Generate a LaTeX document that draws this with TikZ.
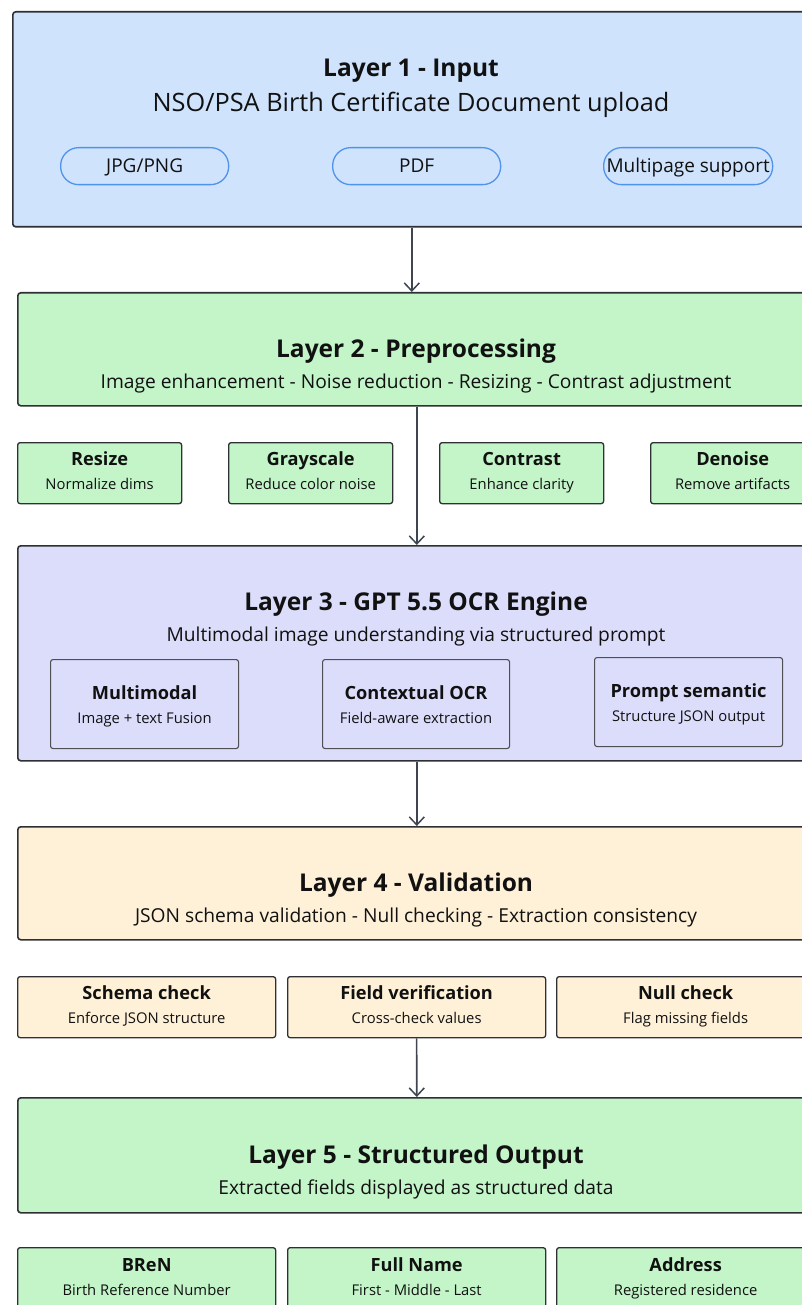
\documentclass[tikz,border=0pt]{standalone}
\usepackage{fontspec}
\setmainfont{Open Sans}
\usetikzlibrary{arrows.meta}
\definecolor{blueL}{HTML}{CFE3FD}
\definecolor{greenL}{HTML}{C3F5C9}
\definecolor{violetL}{HTML}{DCDDFB}
\definecolor{creamL}{HTML}{FEF1D8}
\definecolor{pillB}{HTML}{4F93EA}
\definecolor{edgeC}{HTML}{2E3033}
\definecolor{lineC}{HTML}{3E4550}
\definecolor{txt}{HTML}{111111}
\tikzset{
  layerbox/.style={draw=edgeC, line width=1.6pt, rounded corners=3pt, inner sep=0pt, anchor=north west},
  smallbox/.style={draw=edgeC, line width=1.3pt, rounded corners=2.5pt, inner sep=0pt, anchor=north west},
  innerbox/.style={draw=edgeC!85, line width=1.1pt, rounded corners=2.5pt, inner sep=0pt, anchor=north west},
  pill/.style={draw=pillB, line width=1.3pt, rounded corners=18pt, inner sep=0pt, anchor=north west},
  ttl/.style={font=\fontsize{24.5}{26}\selectfont\bfseries, text=txt, inner sep=0pt, anchor=base},
  sub/.style={font=\fontsize{19.2}{21}\selectfont, text=txt, inner sep=0pt, anchor=base},
  subA/.style={font=\fontsize{25.3}{27}\selectfont, text=txt, inner sep=0pt, anchor=base},
  stl/.style={font=\fontsize{18.2}{20}\selectfont\bfseries, text=txt, inner sep=0pt, anchor=base},
  ssub/.style={font=\fontsize{14.8}{16}\selectfont, text=txt, inner sep=0pt, anchor=base},
  ptxt/.style={font=\fontsize{19}{21}\selectfont, text=txt, inner sep=0pt, anchor=base},
  conn/.style={draw=lineC, line width=1.6pt, -{Straight Barb[length=8pt,width=15pt,line width=1.5pt]}}
}
\newcommand{\bx}[6]{% style, name, x1, y1, x2, y2
  \node[#1, minimum width={(#5-#3)*1pt}, minimum height={(#6-#4)*1pt}] (#2) at (#3,#4) {};}
\begin{document}
\begin{tikzpicture}[x=1pt,y=-1pt]
\useasboundingbox (0,0) rectangle (801,1305);
% Layer 1
\bx{layerbox, fill=blueL}{L1}{12}{11}{810}{226}
\node[ttl] (L1t) at (411,77) {Layer 1 - Input};
\node[subA] (L1s) at (411,112) {NSO/PSA Birth Certificate Document upload};
\bx{pill, fill=blueL}{P1}{60}{147}{228}{184}
\bx{pill, fill=blueL}{P2}{332}{147}{500}{184}
\bx{pill, fill=blueL}{P3}{603}{147}{772}{184}
\node[ptxt] at ([yshift=-6.5pt]P1.center) {JPG/PNG};
\node[ptxt] at ([yshift=-6.5pt]P2.center) {PDF};
\node[ptxt] at ([yshift=-6.5pt]P3.center) {Multipage support};
% Layer 2
\bx{layerbox, fill=greenL}{L2}{17}{292}{815}{405}
\node[ttl] (L2t) at (416,357) {Layer 2 - Preprocessing};
\node[sub] (L2s) at (416,388) {Image enhancement - Noise reduction - Resizing - Contrast adjustment};
\bx{smallbox, fill=greenL}{S1}{17}{442}{181}{503}
\bx{smallbox, fill=greenL}{S2}{228}{442}{392}{503}
\bx{smallbox, fill=greenL}{S3}{439}{442}{603}{503}
\bx{smallbox, fill=greenL}{S4}{650}{442}{814}{503}
\foreach \n/\a/\b in {S1/Resize/Normalize dims, S2/Grayscale/Reduce color noise, S3/Contrast/Enhance clarity, S4/Denoise/Remove artifacts}{
  \node[stl] at ([yshift=-23.5pt]\n.north) {\a};
  \node[ssub] at ([yshift=-47pt]\n.north) {\b};
}
% Layer 3
\bx{layerbox, fill=violetL}{L3}{17}{545}{815}{760}
\node[ttl] (L3t) at (416,610) {Layer 3 - GPT 5.5 OCR Engine};
\node[sub] (L3s) at (416,641) {Multimodal image understanding via structured prompt};
\bx{innerbox, fill=violetL}{I1}{50}{659}{238}{748}
\bx{innerbox, fill=violetL}{I2}{322}{659}{509}{748}
\bx{innerbox, fill=violetL}{I3}{594}{657}{782}{746}
\foreach \n/\a/\b in {I1/Multimodal/Image + text Fusion, I2/Contextual OCR/Field-aware extraction, I3/Prompt semantic/Structure JSON output}{
  \node[stl] at ([yshift=-40.5pt]\n.north) {\a};
  \node[ssub] at ([yshift=-64pt]\n.north) {\b};
}
% Layer 4
\bx{layerbox, fill=creamL}{L4}{17}{826}{815}{939}
\node[ttl] (L4t) at (416,891) {Layer 4 - Validation};
\node[sub] (L4s) at (416,922) {JSON schema validation - Null checking - Extraction consistency};
\bx{smallbox, fill=creamL}{V1}{17}{976}{275}{1037}
\bx{smallbox, fill=creamL}{V2}{287}{976}{545}{1037}
\bx{smallbox, fill=creamL}{V3}{556}{976}{814}{1037}
\foreach \n/\a/\b in {V1/Schema check/Enforce JSON structure, V2/Field verification/Cross-check values, V3/Null check/Flag missing fields}{
  \node[stl] at ([yshift=-23.5pt]\n.north) {\a};
  \node[ssub] at ([yshift=-47pt]\n.north) {\b};
}
% Layer 5
\bx{layerbox, fill=greenL}{L5}{17}{1097}{815}{1212}
\node[ttl] (L5t) at (416,1163) {Layer 5 - Structured Output};
\node[sub] (L5s) at (416,1194) {Extracted fields displayed as structured data};
\bx{smallbox, fill=greenL}{O1}{17}{1247}{275}{1325}
\bx{smallbox, fill=greenL}{O2}{287}{1247}{545}{1325}
\bx{smallbox, fill=greenL}{O3}{556}{1247}{814}{1325}
\foreach \n/\a/\b in {O1/BReN/Birth Reference Number, O2/Full Name/First - Middle - Last, O3/Address/Registered residence}{
  \node[stl] at ([yshift=-24.5pt]\n.north) {\a};
  \node[ssub] at ([yshift=-48pt]\n.north) {\b};
}
% connectors
\draw[conn] (L1.south) -- (L1.south |- L2.north);
\draw[conn] (L2.south) -- (L3.north);
\draw[conn] (L3.south) -- (L4.north);
\draw[conn] (V2.south) -- (L5.north);
\end{tikzpicture}
\end{document}
